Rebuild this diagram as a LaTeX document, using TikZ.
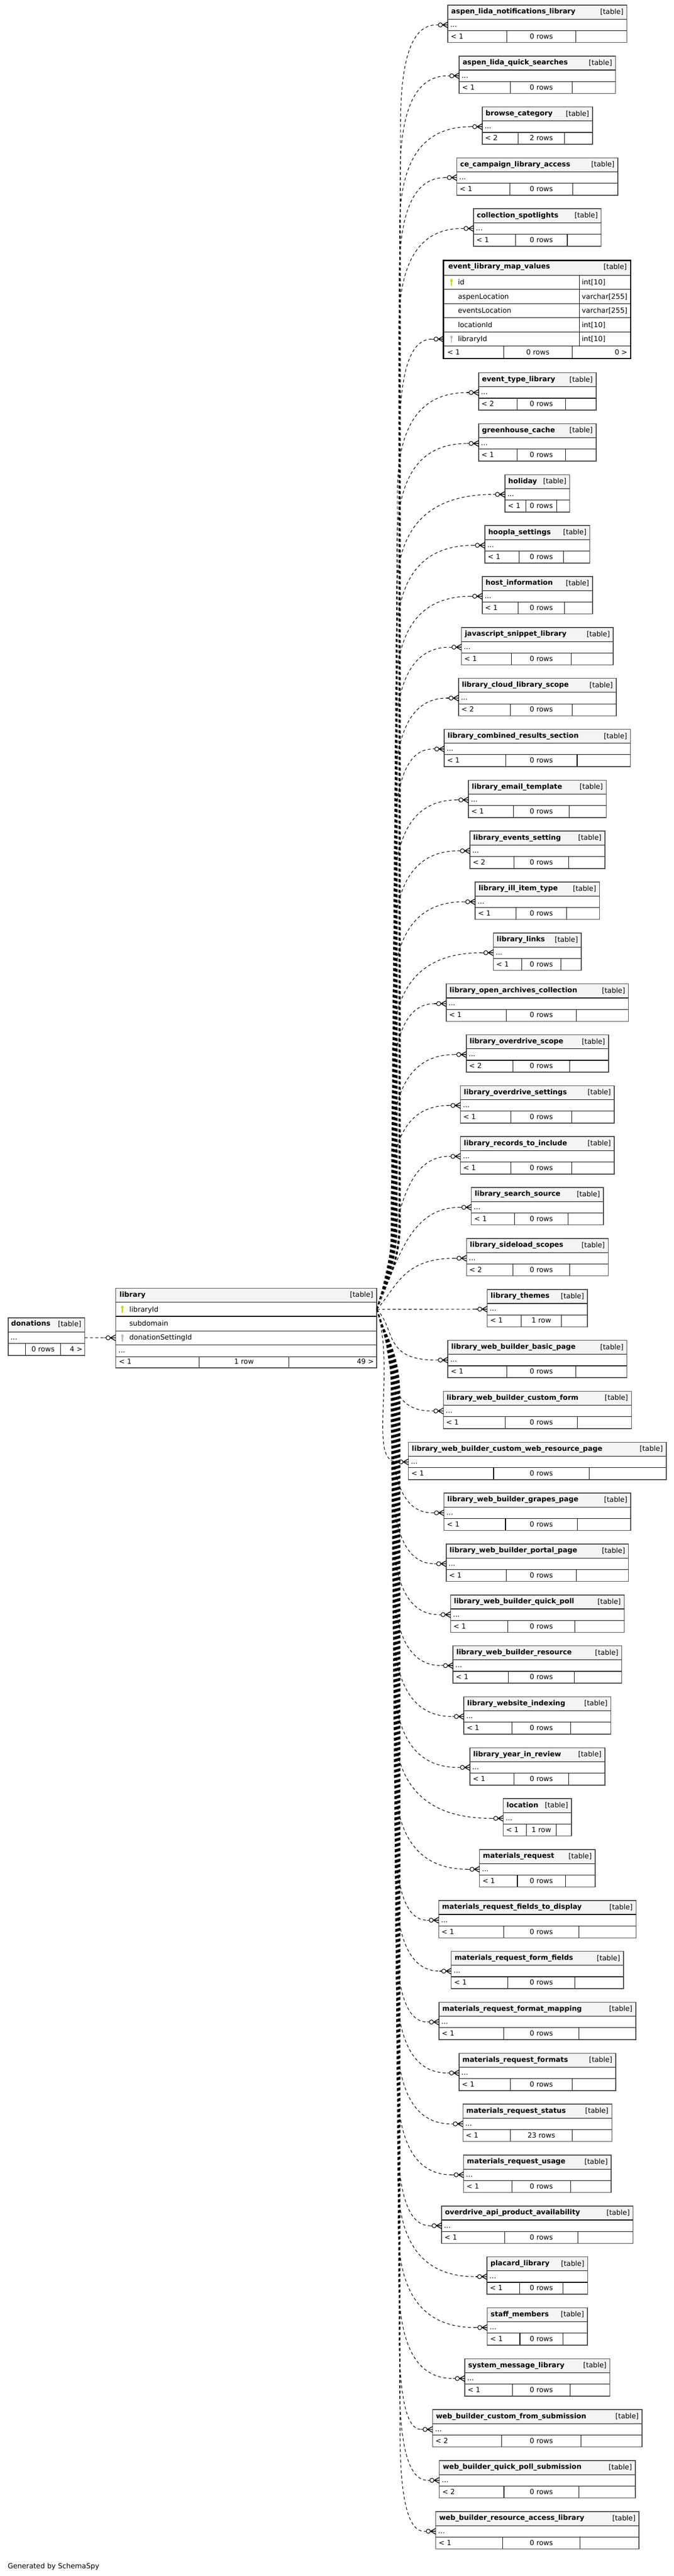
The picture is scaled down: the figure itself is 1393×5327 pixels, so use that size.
\documentclass[tikz,border=0pt]{standalone}
\usepackage{fontspec}
\setmainfont{DejaVu Sans}
\usetikzlibrary{calc}
\definecolor{hdrfill}{RGB}{244,244,244}
\definecolor{frame}{RGB}{70,70,70}
\definecolor{pkkey}{RGB}{215,215,0}
\definecolor{fkkey}{RGB}{190,190,190}

% crow's foot with open circle (zero or many), at the west side of a row
\newcommand{\crowfoot}[1]{%
  \draw[line width=1.2pt] ([xshift=-24pt]#1.west) -- ([xshift=-19.8pt]#1.west);
  \draw[line width=1.2pt, fill=white] ([xshift=-15.5pt]#1.west) circle (4.3pt);
  \draw[line width=1.5pt] ([xshift=-11pt]#1.west) -- ([yshift=6pt]#1.west)
    ([xshift=-11pt]#1.west) -- ([yshift=-6pt]#1.west)
    ([xshift=-11pt]#1.west) -- (#1.west);
}
% key icon: #1 centre, #2 colour
\newcommand{\keyicon}[2]{%
  \fill[#2] ($(#1)+(0,-4)$) ellipse (2.8pt and 3.6pt);
  \draw[#2, line width=2.4pt] ($(#1)+(0,-1)$) -- ($(#1)+(0,7.5)$);
}

% index/name/width/lower bound/rows/extra
\def\tablelist{1/aspen\_lida\_notifications\_library/370/1/0 rows/37.5,
  2/aspen\_lida\_quick\_searches/323/1/0 rows/37.5,
  3/browse\_category/228/2/2 rows/37.5,
  4/ce\_campaign\_library\_access/333/1/0 rows/37.5,
  5/collection\_spotlights/264/1/0 rows/37.5,
  7/event\_type\_library/243/2/0 rows/37.5,
  8/greenhouse\_cache/243/1/0 rows/37.5,
  9/holiday/134/1/0 rows/37.5,
  10/hoopla\_settings/217/1/0 rows/37.5,
  11/host\_information/228/1/0 rows/37.5,
  12/javascript\_snippet\_library/314/1/0 rows/37.5,
  13/library\_cloud\_library\_scope/326/2/0 rows/37.5,
  14/library\_combined\_results\_section/385/1/0 rows/37.5,
  15/library\_email\_template/285/1/0 rows/37.5,
  16/library\_events\_setting/279/2/0 rows/37.5,
  17/library\_ill\_item\_type/257/1/0 rows/37.5,
  18/library\_links/182/1/0 rows/37.5,
  19/library\_open\_archives\_collection/377/1/0 rows/37.5,
  20/library\_overdrive\_scope/294/2/0 rows/37.5,
  21/library\_overdrive\_settings/318/1/0 rows/37.5,
  22/library\_records\_to\_include/318/1/0 rows/37.5,
  23/library\_search\_source/273/1/0 rows/37.5,
  24/library\_sideload\_scopes/293/2/0 rows/37.5,
  25/library\_themes/207/1/1 row/30,
  26/library\_web\_builder\_basic\_page/370/1/0 rows/37.5,
  27/library\_web\_builder\_custom\_form/389/1/0 rows/37.5,
  28/library\_web\_builder\_custom\_web\_resource\_page/533/1/0 rows/37.5,
  29/library\_web\_builder\_grapes\_page/386/1/0 rows/37.5,
  30/library\_web\_builder\_portal\_page/377/1/0 rows/37.5,
  31/library\_web\_builder\_quick\_poll/359/1/0 rows/37.5,
  32/library\_web\_builder\_resource/349/1/0 rows/37.5,
  33/library\_website\_indexing/304/1/0 rows/37.5,
  34/library\_year\_in\_review/279/1/0 rows/37.5,
  35/location/141/1/1 row/30,
  36/materials\_request/239/1/0 rows/37.5,
  37/materials\_request\_fields\_to\_display/408/1/0 rows/37.5,
  38/materials\_request\_form\_fields/356/1/0 rows/37.5,
  39/materials\_request\_format\_mapping/407/1/0 rows/37.5,
  40/materials\_request\_formats/324/1/0 rows/37.5,
  41/materials\_request\_status/308/1/23 rows/47,
  42/materials\_request\_usage/305/1/0 rows/37.5,
  43/overdrive\_api\_product\_availability/396/1/0 rows/37.5,
  44/placard\_library/208/1/0 rows/37.5,
  45/staff\_members/207/1/0 rows/37.5,
  46/system\_message\_library/300/1/0 rows/37.5,
  47/web\_builder\_custom\_from\_submission/433/2/0 rows/37.5,
  48/web\_builder\_quick\_poll\_submission/405/2/0 rows/37.5,
  49/web\_builder\_resource\_access\_library/420/1/0 rows/37.5}

\begin{document}
\begin{tikzpicture}[x=1pt, y=-1pt,
    font=\fontsize{14.5}{17}\selectfont,
    hdr/.style={draw=black, line width=1.2pt, fill=hdrfill, anchor=north west,
                inner sep=0pt, outer sep=0pt, minimum height=29pt},
    cell/.style={draw=black, line width=1.2pt, anchor=north west,
                 inner sep=0pt, outer sep=0pt},
    frm/.style={draw=frame, line width=1.6pt},
    txt/.style={inner sep=0pt, outer sep=0pt},
    rel/.style={line width=1.2pt, dash pattern=on 6pt off 5pt}]

    \useasboundingbox (0,0) rectangle (1393,5327);

    % donations
    \node[hdr, minimum width=158pt, minimum height=30pt] (don) at (17,2725) {};
    \node[cell, minimum width=158pt, minimum height=23pt] (don-dots) at (17,2755) {};
    \node[cell, minimum width=158pt, minimum height=25pt] (don-foot) at (17,2778) {};
    \draw[line width=1.2pt] (53,2778) -- (53,2803) (125,2778) -- (125,2803);
    \draw[frm] (don.north west) rectangle (don-foot.south east);
    \node[txt, anchor=base west] (don-name) at (23,2742) {\textbf{donations}};
    \node[txt, anchor=base east] (don-kind) at (168,2743) {[table]};
    \node[txt, anchor=base west] (don-more) at (22,2771) {...};
    \node[txt, anchor=base] (don-rows) at (89,2795) {0 rows};
    \node[txt, anchor=base east] (don-hi) at (170.5,2795) {4 >};

    % library
    \node[hdr, minimum width=540pt] (lib) at (239,2664) {};
    \node[cell, minimum width=540pt, minimum height=29pt] (lib-key) at (239,2693) {};
    \node[cell, minimum width=540pt, minimum height=30pt] (lib-sub) at (239,2722) {};
    \node[cell, minimum width=540pt, minimum height=29pt] (lib-fk) at (239,2752) {};
    \node[cell, minimum width=540pt, minimum height=25pt] (lib-dots) at (239,2781) {};
    \node[cell, minimum width=540pt, minimum height=22.5pt] (lib-foot) at (239,2806) {};
    \draw[line width=1.2pt] (412,2806) -- (412,2828.5) (597,2806) -- (597,2828.5);
    \draw[frm] (lib.north west) rectangle (lib-foot.south east);
    \node[txt, anchor=base west] (lib-name) at (247,2682) {\textbf{library}};
    \node[txt, anchor=base east] (lib-kind) at (771.5,2682.6) {[table]};
    \node[txt, anchor=base west] (lib-c1) at (267.5,2712.5) {libraryId};
    \node[txt, anchor=base west] (lib-c2) at (267.5,2741.5) {subdomain};
    \node[txt, anchor=base west] (lib-c3) at (267.5,2771) {donationSettingId};
    \keyicon{253,2707.5}{pkkey}
    \keyicon{253,2766.5}{fkkey}
    \node[txt, anchor=base west] (lib-more) at (245,2797) {...};
    \node[txt, anchor=base west] (lib-lo) at (246,2821) {< 1};
    \node[txt, anchor=base] (lib-rows) at (504.5,2821) {1 row};
    \node[txt, anchor=base east] (lib-hi) at (773,2821) {49 >};

    % event_library_map_values
    \node[hdr, minimum width=387pt, minimum height=31pt] (ev) at (917,538.3) {};
    \foreach \k/\col/\typ in {1/id/int[10], 2/aspenLocation/varchar[255],
        3/eventsLocation/varchar[255], 4/locationId/int[10], 5/libraryId/int[10]} {
      \node[cell, minimum width=387pt, minimum height=29.3pt] (ev-r\k) at (917,{569.3+(\k-1)*29.3}) {};
      \node[txt, anchor=base west] (ev-c\k) at (947,{569.3+(\k-1)*29.3+19.5}) {\col};
      \node[txt, anchor=base west] (ev-t\k) at (1203,{569.3+(\k-1)*29.3+19.5}) {\typ};
    }
    \node[cell, minimum width=387pt, minimum height=25.7pt] (ev-foot) at (917,715.8) {};
    \draw[line width=1.2pt] (1198,569.3) -- (1198,715.8)
        (1041,715.8) -- (1041,741.5) (1183,715.8) -- (1183,741.5);
    \draw[line width=3pt] (ev.north west) rectangle (ev-foot.south east);
    \node[txt, anchor=base west] (ev-name) at (927,556) {\textbf{event\_library\_map\_values}};
    \node[txt, anchor=base east] (ev-kind) at (1296,557) {[table]};
    \keyicon{933.6,583.9}{pkkey}
    \keyicon{933.6,701.2}{fkkey}
    \node[txt, anchor=base west] (ev-lo) at (925,733) {< 1};
    \node[txt, anchor=base] (ev-rows) at (1112,733) {0 rows};
    \node[txt, anchor=base east] (ev-hi) at (1297,733) {0 >};

    % child tables
    \foreach \i/\nm/\w/\lo/\rows/\ex in \tablelist {
      \pgfmathsetmacro{\ttop}{\i<6 ? 10.7+(\i-1)*105.25 : 771+(\i-7)*105.3}
      \pgfmathsetmacro{\tl}{1111-\w/2}
      \pgfmathsetmacro{\tr}{1111+\w/2}
      \pgfmathsetmacro{\wc}{(\w-16.5-\ex)/3}
      \pgfmathsetmacro{\da}{\tl+\wc+16.5}
      \pgfmathsetmacro{\db}{\da+\wc+\ex}
      \node[hdr, minimum width=\w pt] (t\i) at (\tl,\ttop) {};
      \node[cell, minimum width=\w pt, minimum height=23.6pt] (t\i-dots) at (\tl,\ttop+29) {};
      \node[cell, minimum width=\w pt, minimum height=24.7pt] (t\i-foot) at (\tl,\ttop+52.6) {};
      \draw[line width=1.2pt] (\da,\ttop+52.6) -- (\da,\ttop+77.3) (\db,\ttop+52.6) -- (\db,\ttop+77.3);
      \draw[frm] (t\i.north west) rectangle (t\i-foot.south east);
      \node[txt, anchor=base west] (t\i-name) at (\tl+7,\ttop+18) {\textbf{\nm}};
      \node[txt, anchor=base east] (t\i-kind) at (\tr-7,\ttop+18.6) {[table]};
      \node[txt, anchor=base west] (t\i-more) at (\tl+5,\ttop+45) {...};
      \node[txt, anchor=base west] (t\i-lo) at (\tl+6,\ttop+69.5) {< \lo};
      \node[txt, anchor=base] (t\i-rows) at ({(\da+\db)/2},\ttop+69.5) {\rows};
    }

    % Connections
    \draw[rel] (don-dots.east) -- ([xshift=-24pt]lib-fk.west);
    \crowfoot{lib-fk}

    \draw[rel] (lib-key.east) .. controls (790,2662.5) and (826,2626.5)
        .. (826,2527.5) -- (826,911.2) .. controls (826,774.7) and (846,701.2)
        .. ([xshift=-24pt]ev-r5.west);
    \crowfoot{ev-r5}

    \foreach \i/\nm/\w/\lo/\rows/\ex in \tablelist {
      \pgfmathsetmacro{\ttop}{\i<6 ? 10.7+(\i-1)*105.25 : 771+(\i-7)*105.3}
      \pgfmathsetmacro{\yt}{\ttop+41}
      \pgfmathsetmacro{\tail}{1111-\w/2-24}
      \pgfmathsetmacro{\dy}{\yt-2707.5}
      \pgfmathsetmacro{\D}{abs(\dy)}
      \pgfmathsetmacro{\sg}{\dy<0 ? -1 : 1}
      \pgfmathtruncatemacro{\near}{\D<330 ? 1 : 0}
      \ifnum\near=1
        \pgfmathsetmacro{\cx}{max(760,\tail-110)}
        \draw[rel] (lib-key.east) .. controls (819,{2707.5+0.4*\dy}) and (\cx,\yt)
            .. ([xshift=-24pt]t\i-dots.west);
      \else
        \pgfmathsetmacro{\xb}{min(828,805+\D/115)}
        \pgfmathsetmacro{\ha}{min(180,0.4*\D)}
        \pgfmathsetmacro{\rc}{min(210,0.45*\D)}
        \draw[rel] (lib-key.east) .. controls (790,{2707.5+(\sg)*0.25*\ha}) and (\xb,{2707.5+(\sg)*0.45*\ha})
            .. (\xb,{2707.5+(\sg)*\ha}) -- (\xb,{\yt-(\sg)*\rc})
            .. controls (\xb,{\yt-(\sg)*0.35*\rc}) and ({\xb+0.3*(\tail-\xb)},\yt)
            .. ([xshift=-24pt]t\i-dots.west);
      \fi
      \crowfoot{t\i-dots}
    }

    \node[txt, anchor=base west] (credit) at (16,5311) {Generated by SchemaSpy};
\end{tikzpicture}
\end{document}
